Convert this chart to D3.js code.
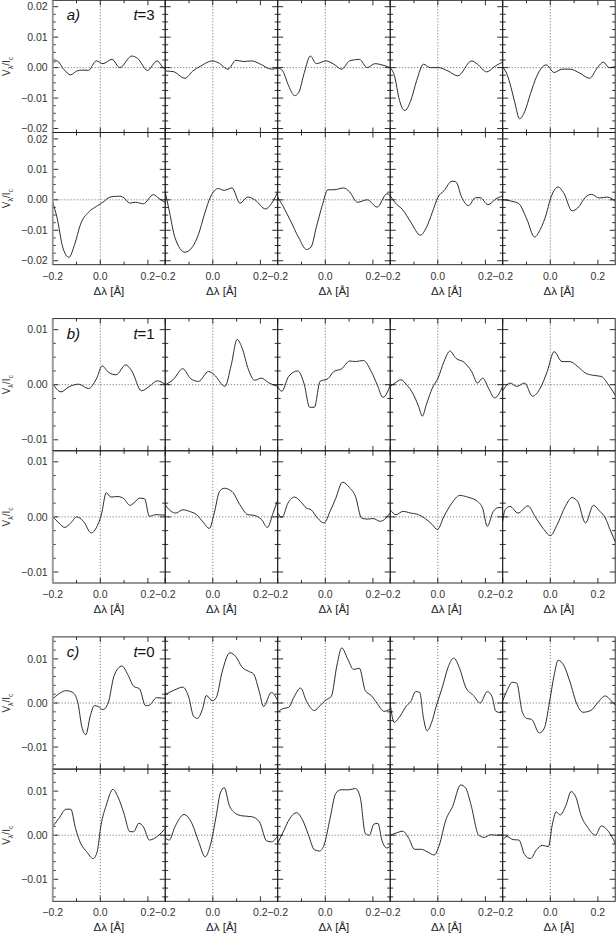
<!DOCTYPE html>
<html><head><meta charset="utf-8">
<script src="https://cdn.jsdelivr.net/npm/d3@7"></script>
<style>body{margin:0;background:#fff}text{font-family:"Liberation Sans",Arial,sans-serif;}</style>
</head><body><svg id="c" width="616" height="933"></svg>
<script>
// ---- data: [Δλ (Å), V/Ic] ----
// group a (t=3), top row
const a1=[[-0.2,0.0015],[-0.195,0.0018],[-0.182,0.0022],[-0.154,-0.0005],[-0.124,-0.0024],[-0.099,-0.0011],[-0.075,-0.0008],[-0.05,-0.0009],[-0.017,0.0022],[0.011,0.0013],[0.049,0.0027],[0.082,0],[0.132,0.0038],[0.157,0.003],[0.198,-0.0009],[0.239,0.0022],[0.264,0],[0.28,-0.0005]];
const a2=[[-0.2,-0.0011],[-0.167,-0.0013],[-0.117,-0.0035],[-0.084,-0.0011],[-0.051,0.0005],[-0.002,0.0022],[0.023,0.0016],[0.064,-0.0005],[0.097,0.0024],[0.13,0.002],[0.163,0.0022],[0.196,0.0013],[0.246,-0.0005],[0.28,0]];
const a3=[[-0.2,0],[-0.179,-0.0011],[-0.154,-0.006],[-0.129,-0.0092],[-0.112,-0.0082],[-0.088,-0.0016],[-0.063,0.0038],[-0.038,0.0013],[0.003,0.0022],[0.036,0.0011],[0.069,-0.0005],[0.102,0.0022],[0.143,0.0027],[0.176,0],[0.209,0.0013],[0.242,0.0008],[0.28,-0.0002]];
const a4=[[-0.2,0],[-0.18,-0.0033],[-0.164,-0.0098],[-0.139,-0.0141],[-0.114,-0.0109],[-0.089,-0.0043],[-0.06,0.0011],[-0.032,0],[0.001,0],[0.043,-0.0011],[0.084,-0.0027],[0.142,0.0022],[0.167,0.0011],[0.205,-0.0014],[0.241,0.0005],[0.28,0.0021]];
const a5=[[-0.2,0.0002],[-0.182,-0.0022],[-0.165,-0.0065],[-0.149,-0.0115],[-0.129,-0.0168],[-0.108,-0.0145],[-0.083,-0.0085],[-0.058,-0.003],[-0.017,0.0009],[0.016,-0.0016],[0.049,-0.0005],[0.082,-0.0005],[0.124,-0.0018],[0.165,-0.0035],[0.198,0],[0.223,0.0018],[0.247,0],[0.28,0.0005]];
// group a, bottom row
const a6=[[-0.2,-0.0008],[-0.182,-0.0058],[-0.157,-0.0158],[-0.132,-0.0189],[-0.108,-0.0147],[-0.083,-0.008],[-0.05,-0.0041],[-0.017,-0.0022],[0.011,-0.0008],[0.041,0.0009],[0.082,0.0012],[0.099,0.0007],[0.124,-0.0011],[0.148,-0.0008],[0.181,-0.0013],[0.223,0.0017],[0.247,0.0004],[0.28,-0.0012]];
const a7=[[-0.2,0.0026],[-0.183,-0.0036],[-0.159,-0.0124],[-0.117,-0.0172],[-0.084,-0.0153],[-0.06,-0.0113],[-0.035,-0.0047],[-0.01,0.0009],[0.023,0.0037],[0.048,0.0031],[0.081,0.0039],[0.114,-0.0011],[0.147,0.0009],[0.18,-0.0002],[0.221,-0.003],[0.246,-0.0013],[0.28,0.004]];
const a8=[[-0.2,0.0009],[-0.179,-0.0019],[-0.146,-0.0069],[-0.112,-0.0124],[-0.079,-0.0163],[-0.06,-0.0155],[-0.038,-0.0091],[-0.013,-0.0019],[0.011,0.0033],[0.036,0.0033],[0.077,0.0039],[0.102,0.0026],[0.135,-0.0008],[0.176,0],[0.218,-0.0024],[0.259,0.002],[0.28,0.0006]];
const a9=[[-0.2,0.0014],[-0.18,-0.0009],[-0.147,-0.0033],[-0.114,-0.0073],[-0.073,-0.0116],[-0.048,-0.0091],[-0.023,-0.0041],[0.001,0.0009],[0.026,0.003],[0.059,0.0061],[0.076,0.0059],[0.1,0.0009],[0.129,-0.0019],[0.158,0.0007],[0.178,0.0007],[0.211,-0.0016],[0.244,0.0003],[0.28,0.0015]];
const a10=[[-0.2,0],[-0.165,-0.0004],[-0.132,-0.0013],[-0.099,-0.0063],[-0.066,-0.0122],[-0.042,-0.0097],[-0.017,-0.0047],[0,0.0002],[0.033,0.0042],[0.058,0.002],[0.091,-0.0036],[0.115,-0.0027],[0.148,0.0009],[0.173,0.0018],[0.206,0.0006],[0.239,0.0009],[0.28,-0.001]];
// group b (t=1), top row
const b1=[[-0.2,0.0002],[-0.165,-0.0013],[-0.132,-0.0004],[-0.091,0.0001],[-0.05,-0.0007],[-0.017,0.001],[0.008,0.0034],[0.033,0.0023],[0.066,0.0018],[0.107,0.0036],[0.132,0.0025],[0.173,-0.0011],[0.206,-0.0003],[0.239,0.0007],[0.28,-0.0002]];
const b2=[[-0.2,0],[-0.167,0.0009],[-0.126,0.0029],[-0.093,0.0011],[-0.06,0.0006],[-0.018,0.0024],[0.006,0.0018],[0.051,-0.0003],[0.077,0.0035],[0.102,0.0082],[0.122,0.0068],[0.15,0.0027],[0.176,0.0008],[0.204,0.0012],[0.233,0.0004],[0.28,-0.0004]];
const b3=[[-0.2,-0.0003],[-0.183,-0.0012],[-0.154,0.0015],[-0.116,0.0025],[-0.088,0],[-0.066,-0.0041],[-0.046,-0.0041],[-0.022,0.0006],[0.011,0.0011],[0.036,0.0024],[0.069,0.0029],[0.102,0.0043],[0.127,0.0042],[0.16,0.0044],[0.193,0.0024],[0.218,0],[0.242,-0.0023],[0.28,0.0008]];
const b4=[[-0.2,-0.0003],[-0.18,0.0003],[-0.155,0.0009],[-0.131,0],[-0.106,-0.0015],[-0.081,-0.0039],[-0.065,-0.0057],[-0.048,-0.0036],[-0.023,-0.0006],[0.001,0.0012],[0.026,0.0042],[0.051,0.0061],[0.076,0.0048],[0.109,0.0041],[0.142,0.0024],[0.167,0.0003],[0.188,0.0012],[0.216,-0.0009],[0.238,-0.0024],[0.28,0.0005]];
const b5=[[-0.2,-0.0011],[-0.169,0.0003],[-0.141,-0.0003],[-0.108,0.0003],[-0.075,-0.0021],[-0.042,-0.0006],[-0.013,0.0024],[0.016,0.006],[0.049,0.0042],[0.082,0.0042],[0.115,0.0033],[0.148,0.0021],[0.181,0.0017],[0.214,0.0015],[0.244,0],[0.28,-0.0024]];
// group b, bottom row
const b6=[[-0.2,0.0001],[-0.174,-0.0011],[-0.149,-0.0019],[-0.124,-0.0011],[-0.099,0],[-0.071,-0.0008],[-0.038,-0.0029],[-0.017,-0.002],[0.005,0.0005],[0.025,0.0044],[0.044,0.0036],[0.074,0.0037],[0.099,0.0033],[0.124,0.0021],[0.14,0.0025],[0.165,0.0034],[0.186,0.0033],[0.206,0.0001],[0.231,0.0004],[0.28,0.0003]];
const b7=[[-0.2,0.0022],[-0.175,0.001],[-0.155,0.0007],[-0.126,0.0013],[-0.098,0.001],[-0.068,0.0004],[-0.038,-0.0011],[-0.015,-0.0021],[0.006,0.0007],[0.028,0.0046],[0.048,0.0052],[0.081,0.0046],[0.114,0.0022],[0.147,0.0004],[0.171,0.0003],[0.205,-0.0005],[0.229,-0.0019],[0.254,0.0008],[0.28,0.004]];
const b8=[[-0.2,0.0007],[-0.182,-0.0001],[-0.157,0.0025],[-0.129,0.0036],[-0.104,0.0028],[-0.079,0.0016],[-0.06,0.0013],[-0.033,-0.0002],[-0.005,-0.0011],[0.02,0.001],[0.044,0.0034],[0.072,0.0063],[0.102,0.0053],[0.127,0.0037],[0.152,-0.0002],[0.176,-0.0004],[0.201,-0.0003],[0.231,-0.0008],[0.28,0.0012]];
const b9=[[-0.2,0.0013],[-0.175,0.0004],[-0.147,0.001],[-0.114,0.0007],[-0.081,0.0004],[-0.053,-0.0003],[-0.023,-0.0014],[-0.002,-0.0023],[0.026,0.0001],[0.059,0.0025],[0.092,0.0039],[0.125,0.0036],[0.167,0.0028],[0.188,0.0016],[0.208,-0.0017],[0.233,0.001],[0.257,0.0017],[0.28,0.0016]];
const b10=[[-0.2,-0.0008],[-0.19,0.0013],[-0.169,0.0019],[-0.136,0.0007],[-0.094,0.002],[-0.063,0],[-0.03,-0.0021],[0,-0.0034],[0.029,-0.0014],[0.063,0.0019],[0.091,0.0035],[0.115,0.0028],[0.148,-0.0011],[0.181,0.0021],[0.206,0.0011],[0.231,-0.0002],[0.251,-0.0023],[0.28,-0.0052]];
// group c (t=0), top row
const c1=[[-0.2,0.0009],[-0.174,0.0021],[-0.144,0.0028],[-0.116,0.0024],[-0.094,0],[-0.078,-0.0053],[-0.061,-0.0072],[-0.042,-0.0029],[-0.025,-0.0006],[-0.009,-0.0008],[0.011,-0.0015],[0.033,0],[0.058,0.0062],[0.091,0.0084],[0.115,0.0065],[0.14,0.0038],[0.165,0.0032],[0.19,-0.0006],[0.206,-0.0005],[0.236,0.0012],[0.28,0.001]];
const c2=[[-0.2,0.0019],[-0.159,0.003],[-0.126,0.0036],[-0.101,0.0013],[-0.081,-0.003],[-0.065,-0.0035],[-0.043,-0.0013],[-0.027,0.0017],[-0.002,0.0005],[0.015,0.0013],[0.039,0.007],[0.072,0.0114],[0.097,0.0105],[0.122,0.0082],[0.15,0.0072],[0.171,0.0066],[0.196,0.0024],[0.213,-0.0008],[0.246,0.0024],[0.28,-0.0004]];
const c3=[[-0.2,-0.0021],[-0.179,-0.0013],[-0.154,-0.001],[-0.132,0.0013],[-0.104,0.0034],[-0.079,0.0004],[-0.046,-0.0017],[-0.022,-0.0006],[0,0.0006],[0.025,0.0015],[0.049,0.0086],[0.069,0.0125],[0.094,0.01],[0.119,0.0076],[0.143,0.0079],[0.168,0.0028],[0.193,0.0017],[0.218,-0.0001],[0.247,-0.0019],[0.28,-0.001]];
const c4=[[-0.2,-0.0002],[-0.183,-0.0044],[-0.159,-0.003],[-0.131,-0.0006],[-0.114,0.0003],[-0.093,0.0026],[-0.076,0.0024],[-0.06,-0.0035],[-0.045,-0.0063],[-0.027,-0.0046],[-0.007,-0.0008],[0.018,0.0034],[0.046,0.0085],[0.067,0.0102],[0.092,0.0078],[0.117,0.0036],[0.15,0.0017],[0.178,0],[0.208,0.0026],[0.228,0.0014],[0.244,-0.0019],[0.266,-0.0022],[0.28,0.0002]];
const c5=[[-0.2,0.0005],[-0.182,0.0028],[-0.16,0.0047],[-0.141,0.0045],[-0.119,-0.0018],[-0.099,-0.0035],[-0.079,-0.0037],[-0.046,-0.0068],[-0.025,-0.0057],[-0.004,0],[0.016,0.0063],[0.033,0.0097],[0.058,0.0084],[0.082,0.0049],[0.112,-0.0003],[0.137,-0.0021],[0.17,-0.0017],[0.198,0],[0.231,0.0016],[0.256,0.0005],[0.28,-0.0009]];
// group c, bottom row
const c6=[[-0.2,0.002],[-0.174,0.0038],[-0.144,0.0059],[-0.124,0.0059],[-0.104,0.0015],[-0.083,-0.0018],[-0.058,-0.0037],[-0.03,-0.0053],[-0.013,-0.0037],[0.003,0.0023],[0.025,0.0068],[0.053,0.0104],[0.074,0.0087],[0.099,0.005],[0.124,0.0008],[0.14,0.0008],[0.162,0.0027],[0.181,0.0019],[0.206,-0.0011],[0.236,-0.0004],[0.28,0.002]];
const c7=[[-0.2,-0.0007],[-0.183,-0.0011],[-0.159,0.0019],[-0.121,0.0047],[-0.088,0.0027],[-0.06,-0.0014],[-0.032,-0.0049],[-0.01,-0.0022],[0.015,0.0046],[0.031,0.0095],[0.048,0.0108],[0.069,0.0068],[0.094,0.005],[0.122,0.0044],[0.163,0.0042],[0.196,0.003],[0.226,-0.0013],[0.246,-0.0015],[0.28,0.0005]];
const c8=[[-0.2,-0.0018],[-0.179,0.0005],[-0.149,0.0038],[-0.121,0.0051],[-0.096,0.0035],[-0.071,0.0001],[-0.046,-0.0033],[-0.025,-0.0036],[-0.005,-0.0022],[0.02,0.0038],[0.044,0.0095],[0.066,0.0103],[0.099,0.0103],[0.127,0.0106],[0.147,0.0085],[0.168,0.0004],[0.185,0],[0.204,0.0025],[0.221,0.0027],[0.238,-0.0012],[0.259,-0.0029],[0.28,-0.002]];
const c9=[[-0.2,0],[-0.175,0.0005],[-0.147,0.0009],[-0.122,-0.0007],[-0.098,-0.0032],[-0.07,-0.0032],[-0.043,-0.0038],[-0.015,-0.0045],[0.006,-0.0023],[0.034,0.0035],[0.062,0.0065],[0.096,0.0114],[0.117,0.0107],[0.138,0.0072],[0.172,0],[0.195,-0.0005],[0.221,0.0001],[0.249,0],[0.28,0.0001]];
const c10=[[-0.2,-0.001],[-0.182,-0.0003],[-0.157,-0.001],[-0.132,-0.0011],[-0.108,-0.0044],[-0.083,-0.0053],[-0.058,-0.0033],[-0.033,-0.0023],[-0.008,-0.0026],[0.008,0.0023],[0.025,0.0053],[0.041,0.0046],[0.066,0.0068],[0.087,0.0099],[0.107,0.0087],[0.129,0.0045],[0.157,0.0018],[0.19,0],[0.214,0.0021],[0.239,0.0012],[0.28,-0.0026]];

// ---- axis tick values / labels ----
const xTicksMajor=[-0.2,0.0,0.2];
const xTicksMinor=[-0.1,0.1];
const yTicksA=[-0.02,-0.01,0.00,0.01,0.02];
const yTicksB=[-0.01,0.00,0.01];
const yTicksC=[-0.01,0.00,0.01];
const groupLabels=["a)","b)","c)"];
const timeLabels=["3","1","0"];
const yDomains=[[-0.0213,0.0221],[-0.012,0.012],[-0.015,0.015]];
const yMinorSteps=[0.0025,0.0025,0.002];

// ---- layout ----
const L0=52.7, colW=112.5, rowH=132.2;
const groupTops=[0.3,318.6,636.9];
const xDomain=[-0.2,0.2726];

const groups=[
  {panels:[a1,a2,a3,a4,a5,a6,a7,a8,a9,a10], yt:yTicksA},
  {panels:[b1,b2,b3,b4,b5,b6,b7,b8,b9,b10], yt:yTicksB},
  {panels:[c1,c2,c3,c4,c5,c6,c7,c8,c9,c10], yt:yTicksC}
];

const svg=d3.select("#c");
const defs=svg.append("defs");
const fy=d3.format(".2f"), fx=d3.format(".1f");
const ink="#1a1a1a";

groups.forEach((g,gi)=>{
  const dom=yDomains[gi];
  const step=yMinorSteps[gi];
  const minors=d3.range(Math.ceil(dom[0]/step),Math.floor(dom[1]/step)+1).map(k=>k*step);
  for(let r=0;r<2;r++){
    const top=groupTops[gi]+r*rowH;
    const y=d3.scaleLinear().domain(dom).range([top+rowH,top]);
    for(let c=0;c<5;c++){
      const left=L0+c*colW;
      const x=d3.scaleLinear().domain(xDomain).range([left,left+colW]);
      const id=`clip${gi}${r}${c}`;
      defs.append("clipPath").attr("id",id).append("rect")
        .attr("x",left).attr("y",top).attr("width",colW).attr("height",rowH);
      const p=svg.append("g");
      // dotted zero lines
      p.append("line").attr("x1",left).attr("x2",left+colW).attr("y1",y(0)).attr("y2",y(0))
        .attr("stroke","#555").attr("stroke-width",0.9).attr("stroke-dasharray","1,2");
      p.append("line").attr("x1",x(0)).attr("x2",x(0)).attr("y1",top).attr("y2",top+rowH)
        .attr("stroke","#555").attr("stroke-width",0.9).attr("stroke-dasharray","1,2");
      // curve
      const data=g.panels[r*5+c];
      p.append("path").datum(data).attr("clip-path",`url(#${id})`)
        .attr("d",d3.line().x(d=>x(d[0])).y(d=>y(d[1])).curve(d3.curveMonotoneX))
        .attr("fill","none").attr("stroke","#222").attr("stroke-width",0.95);
      // ticks y (left & right, inward)
      const tk=p.append("g").attr("stroke",ink).attr("stroke-width",0.9);
      minors.forEach(v=>{
        const isMaj=g.yt.some(t=>Math.abs(t-v)<1e-9);
        const len=isMaj?5.5:3;
        tk.append("line").attr("x1",left).attr("x2",left+len).attr("y1",y(v)).attr("y2",y(v));
        tk.append("line").attr("x1",left+colW).attr("x2",left+colW-len).attr("y1",y(v)).attr("y2",y(v));
      });
      // ticks x (top & bottom, inward)
      xTicksMajor.concat(xTicksMinor).forEach(v=>{
        const len=xTicksMajor.includes(v)?5:3;
        tk.append("line").attr("x1",x(v)).attr("x2",x(v)).attr("y1",top+rowH).attr("y2",top+rowH-len);
        tk.append("line").attr("x1",x(v)).attr("x2",x(v)).attr("y1",top).attr("y2",top+len);
      });
      // frame
      p.append("rect").attr("x",left).attr("y",top).attr("width",colW).attr("height",rowH)
        .attr("fill","none").attr("stroke",ink).attr("stroke-width",0.9);
      if(c===0){
        p.append("line").attr("x1",left).attr("x2",left).attr("y1",top).attr("y2",top+rowH)
          .attr("stroke","#999").attr("stroke-width",1.8);
        // y tick labels
        g.yt.forEach(v=>{
          svg.append("text").attr("x",left-5).attr("y",y(v)).attr("dy","0.35em")
            .attr("text-anchor","end").attr("font-size",10.5).attr("fill","#333").text(fy(v));
        });
        // y axis title
        const yt=svg.append("text").attr("transform",`translate(10,${top+rowH/2}) rotate(-90)`)
          .attr("text-anchor","middle").attr("font-size",10).attr("fill","#333");
        yt.append("tspan").text("V");
        yt.append("tspan").attr("font-size",7).attr("dy",2.5).text("λ");
        yt.append("tspan").attr("dy",-2.5).text("/I");
        yt.append("tspan").attr("font-size",7).attr("dy",2.5).text("c");
      }
      if(r===1){
        xTicksMajor.forEach(v=>{
          svg.append("text").attr("x",x(v)).attr("y",top+rowH+15).attr("text-anchor","middle")
            .attr("font-size",10.5).attr("fill","#333").text(fx(v));
        });
        svg.append("text").attr("x",left+colW/2).attr("y",top+rowH+30).attr("text-anchor","middle")
          .attr("font-size",11.5).attr("fill","#222").text("Δλ [Å]");
      }
      if(r===0&&c===0){
        svg.append("text").attr("x",left+14).attr("y",top+20).attr("font-size",15)
          .attr("font-style","italic").attr("fill","#111").text(groupLabels[gi]);
        const tt=svg.append("text").attr("x",left+102).attr("y",top+20).attr("text-anchor","end")
          .attr("font-size",15).attr("fill","#111");
        tt.append("tspan").attr("font-style","italic").text("t");
        tt.append("tspan").text("=" + timeLabels[gi]);
      }
    }
  }
});
</script></body></html>
